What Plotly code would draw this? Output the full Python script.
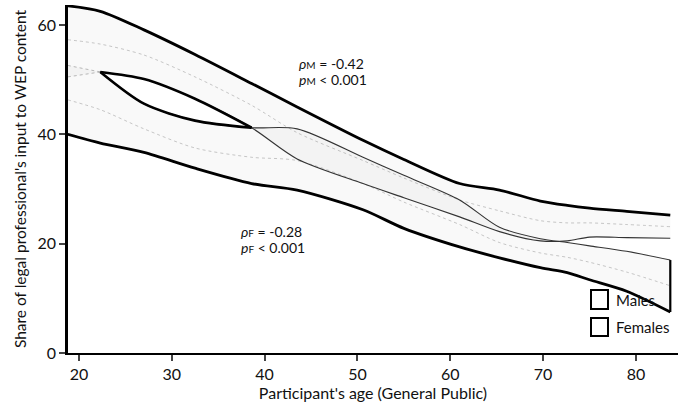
import plotly.graph_objects as go

# ---- data ----
ages = [18.8, 22.3, 27.0, 32.5, 38.6, 43.5, 50.6, 55.0, 61.0, 65.3, 69.7, 72.6, 75.0, 79.0, 83.7]

male_upper   = [63.5, 62.5, 59.1, 54.6, 49.3, 45.0, 38.9, 35.4, 31.0, 29.8, 27.8, 27.0, 26.5, 25.9, 25.2]
male_lower   = [50.5, 51.4, 50.1, 46.5, 41.2, 35.5, 31.0, 28.4, 24.9, 22.2, 20.5, 20.5, 21.2, 21.1, 21.0]
male_mean    = [57.3, 56.5, 54.5, 50.5, 45.3, 40.3, 35.2, 32.0, 28.0, 26.0, 24.2, 23.8, 23.8, 23.5, 23.1]

female_upper = [52.6, 51.4, 45.6, 42.5, 41.2, 41.0, 35.8, 32.5, 28.0, 23.0, 20.9, 20.2, 19.6, 18.6, 17.0]
female_lower = [40.0, 38.4, 36.7, 33.8, 31.0, 29.8, 26.2, 22.8, 19.4, 17.4, 15.6, 14.7, 13.4, 11.3, 7.5]
female_mean  = [46.3, 44.5, 41.0, 37.5, 35.8, 35.2, 31.0, 27.6, 23.5, 20.2, 18.3, 17.5, 16.6, 14.8, 12.3]

x_ticks = [20, 30, 40, 50, 60, 70, 80]
y_ticks = [0, 20, 40, 60]
legend_labels = ["Males", "Females"]
SUB = "<span style='font-size:10px'>{}</span>"
male_stats = ["<i>ρ</i>" + SUB.format("M") + " = -0.42", "<i>p</i>" + SUB.format("M") + " < 0.001"]
female_stats = ["<i>ρ</i>" + SUB.format("F") + " = -0.28", "<i>p</i>" + SUB.format("F") + " < 0.001"]

lens = slice(1, 5)
head = slice(0, 2)
rest = slice(1, None)

FONT = "Lato"
W, H = 678, 406
ML, MR, MT, MB = 68, 0, 5, 53
fig = go.Figure()

def band(up, lo, color):
    fig.add_trace(go.Scatter(
        x=ages + ages[::-1], y=up + lo[::-1], fill="toself", fillcolor=color,
        line=dict(width=0), mode="lines", showlegend=False, hoverinfo="skip"))

band(male_upper, male_lower, "rgba(110,110,110,0.045)")
band(female_upper, female_lower, "rgba(110,110,110,0.045)")

def line(x, y, w, color="black", dash="solid", shape="spline"):
    fig.add_trace(go.Scatter(x=x, y=y, mode="lines", showlegend=False, hoverinfo="skip",
                             line=dict(color=color, width=w, dash=dash, shape=shape, smoothing=0.8)))

# mean lines (faint)
line(ages, male_mean, 1, "rgba(120,120,120,0.4)", "dot")
line(ages, female_mean, 1, "rgba(120,120,120,0.4)", "dot")

# inner edges before the lens tip (faint) and after (thin)
line(ages[head], male_lower[head], 1, "rgba(120,120,120,0.5)", "dot")
line(ages[head], female_upper[head], 1, "rgba(120,120,120,0.5)", "dot")
line(ages[rest], male_lower[rest], 1.1, "#333")
line(ages[rest], female_upper[rest], 1.1, "#333")

# lens (heavy)
line(ages[lens], male_lower[lens], 2.6)
line(ages[lens], female_upper[lens], 2.6)

# outer envelope (heavy)
line(ages, male_upper, 2.8)
line(ages, female_lower, 2.8)
line([ages[-1], ages[-1]], [female_upper[-1], female_lower[-1]], 2.2, shape="linear")

# statistics annotations
ann_font = dict(family=FONT, size=14, color="#111")
for txt, (ax, ay) in zip(male_stats, [(43.5, 53.0), (43.5, 49.95)]):
    fig.add_annotation(x=ax, y=ay, xref="x", yref="y", xanchor="left", yanchor="middle",
                       text=txt, showarrow=False, align="left", font=ann_font)
for txt, (ax, ay) in zip(female_stats, [(37.2, 22.3), (37.2, 19.25)]):
    fig.add_annotation(x=ax, y=ay, xref="x", yref="y", xanchor="left", yanchor="middle",
                       text=txt, showarrow=False, align="left", font=ann_font)

# custom legend (paper coordinates relative to plot area)
PW, PH = W - ML - MR, H - MT - MB
def px(xp): return (xp - ML) / PW
def py(yp): return (H - MB - yp) / PH
for (y0, y1), label in zip([(290, 309), (318, 336)], legend_labels):
    fig.add_shape(type="rect", xref="paper", yref="paper",
                  x0=px(591), x1=px(608), y0=py(y1), y1=py(y0),
                  line=dict(color="black", width=2), fillcolor="white")
    fig.add_annotation(xref="paper", yref="paper", x=px(614), y=py((y0 + y1) / 2),
                       xanchor="left", yanchor="middle", text=label, showarrow=False,
                       font=dict(family=FONT, size=15, color="#111"))

fig.update_layout(
    width=W, height=H, margin=dict(l=ML, r=MR, t=MT, b=MB),
    paper_bgcolor="white", plot_bgcolor="white",
    font=dict(family=FONT, size=15, color="#111"),
    xaxis=dict(range=[18.82, 84.53], tickvals=x_ticks, ticks="outside", ticklen=6, tickwidth=1.5,
               showline=True, linecolor="black", linewidth=2, showgrid=False, zeroline=False,
               tickfont=dict(family=FONT, size=16, color="#111"),
               title=dict(text="Participant's age (General Public)", standoff=6,
                          font=dict(family=FONT, size=16, color="#111"))),
    yaxis=dict(range=[0, 63.65], tickvals=y_ticks, ticks="outside", ticklen=6, tickwidth=1.5,
               showline=True, linecolor="black", linewidth=2.5, showgrid=False, zeroline=False,
               tickfont=dict(family=FONT, size=16, color="#111"),
               title=dict(text="Share of legal professional's input to WEP content", standoff=8,
                          font=dict(family=FONT, size=15.5, color="#111"))),
)

fig.write_html("out.html")
